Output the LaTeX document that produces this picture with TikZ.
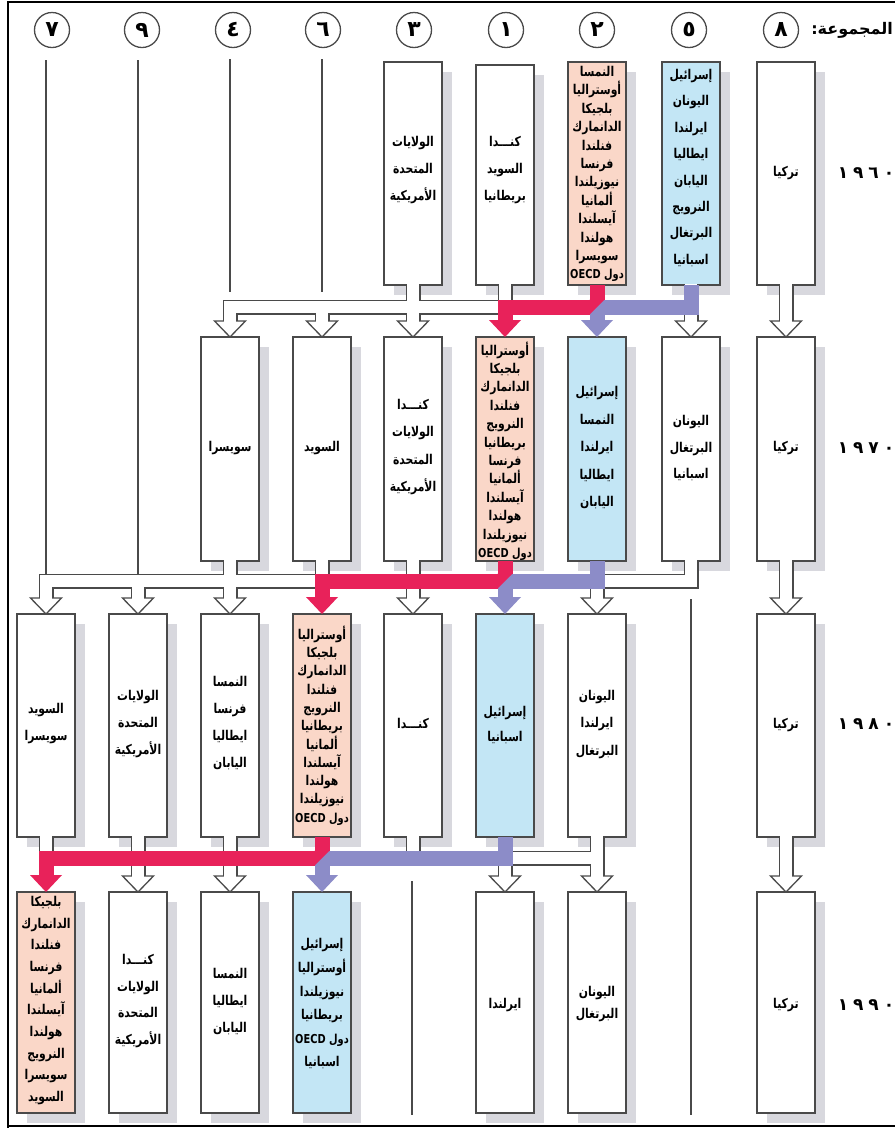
\documentclass[tikz,border=0pt]{standalone}
\usepackage{fontspec}
\usetikzlibrary{calc,shadows}
\TeXXeTstate=1
\newfontfamily\arfont[Script=Arabic,FakeStretch=0.8]{DejaVu Sans}
\newfontfamily\ardigits[Script=Arabic]{DejaVu Sans}
\newcommand{\rtl}[1]{\beginR #1\endR}
\newcommand{\oecd}{{\fontsize{12.3}{0}\selectfont\beginR دول \beginL OECD\endL\endR}}
\definecolor{pinkfill}{HTML}{FAD7C8}
\definecolor{bluefill}{HTML}{C3E6F5}
\definecolor{pinkband}{HTML}{E8225A}
\definecolor{blueband}{HTML}{8C8CC8}
\definecolor{shadowc}{HTML}{D8D8DE}
\definecolor{edge}{HTML}{4A4A4A}
\begin{document}
\begin{tikzpicture}[x=1pt,y=-1pt,
  box/.style={draw=edge,line width=1.3pt,minimum width=58pt,inner sep=0pt,outer sep=0pt,
     general shadow={fill=shadowc,shadow xshift=10pt,shadow yshift=-10pt}},
  wbox/.style={box,fill=white},
  pbox/.style={box,fill=pinkfill},
  bbox/.style={box,fill=bluefill},
  ra/.style={minimum height=223pt},
  rb/.style={minimum height=224pt},
  rc/.style={minimum height=223pt},
  rd/.style={minimum height=221pt},
  tx/.style={font=\arfont\bfseries\fontsize{13.5}{#1}\selectfont,align=center,inner sep=0pt},
  pipeout/.style={draw=edge,line width=15pt},
  pipein/.style={draw=white,line width=12.4pt,shorten <=-1.5pt,shorten >=-1pt},
  whd/.style={fill=white,draw=edge,line width=1.3pt},
  pband/.style={draw=pinkband,line width=15pt},
  bband/.style={draw=blueband,line width=15pt},
  vline/.style={draw=edge,line width=1.3pt},
  grp/.style={circle,draw=edge,line width=1.3pt,minimum size=35pt,inner sep=0pt,font=\ardigits\bfseries\fontsize{22}{22}\selectfont},
  yr/.style={font=\ardigits\bfseries\fontsize{17}{17}\selectfont,inner sep=0pt},
]
\useasboundingbox (0,0) rectangle (895,1128);
\fill[white] (0,0) rectangle (895,1128);
% frame
\draw[line width=2pt] (8,1128) -- (8,2) -- (895,2);
\draw[line width=2pt] (8,1125.5) -- (895,1125.5);
% header
\node[grp] (g7) at (52,30) {٧};
\node[grp] (g9) at (142,30) {٩};
\node[grp] (g4) at (233,30) {٤};
\node[grp] (g6) at (323,30) {٦};
\node[grp] (g3) at (414,30) {٣};
\node[grp] (g1) at (506,30) {١};
\node[grp] (g2) at (597,30) {٢};
\node[grp] (g5) at (689,30) {٥};
\node[grp] (g8) at (781,30) {٨};
\node[anchor=east,inner sep=0pt,font=\ardigits\bfseries\fontsize{16}{16}\selectfont] (hdr) at (893,30) {\rtl{المجموعة:}};
% years
\node[yr] (y60) at (866,173) {١\hspace{5pt}٩\hspace{5pt}٦\hspace{5pt}٠};
\node[yr] (y70) at (866,448) {١\hspace{5pt}٩\hspace{5pt}٧\hspace{5pt}٠};
\node[yr] (y80) at (866,724) {١\hspace{5pt}٩\hspace{5pt}٨\hspace{5pt}٠};
\node[yr] (y90) at (866,1005) {١\hspace{5pt}٩\hspace{5pt}٩\hspace{5pt}٠};
% boxes row 1960
\node[wbox,ra] (r1c3) at (413,173.5) {};
\node[wbox,minimum height=220pt] (r1c1) at (505,175) {};
\node[pbox,ra] (r1c2) at (597,173.5) {};
\node[bbox,ra] (r1c5) at (691,173.5) {};
\node[wbox,ra] (r1c8) at (786,173.5) {};
% row 1970
\node[wbox,rb] (r2c4) at (230,449) {};
\node[wbox,rb] (r2c6) at (322,449) {};
\node[wbox,rb] (r2c3) at (413,449) {};
\node[pbox,rb] (r2c1) at (505,449) {};
\node[bbox,rb] (r2c2) at (597,449) {};
\node[wbox,rb] (r2c5) at (691,449) {};
\node[wbox,rb] (r2c8) at (786,449) {};
% row 1980
\node[wbox,rc] (r3c7) at (46,725.5) {};
\node[wbox,rc] (r3c9) at (138,725.5) {};
\node[wbox,rc] (r3c4) at (230,725.5) {};
\node[pbox,rc] (r3c6) at (322,725.5) {};
\node[wbox,rc] (r3c3) at (413,725.5) {};
\node[bbox,rc] (r3c1) at (505,725.5) {};
\node[wbox,rc] (r3c2) at (597,725.5) {};
\node[wbox,rc] (r3c8) at (786,725.5) {};
% row 1990
\node[pbox,rd] (r4c7) at (46,1002.5) {};
\node[wbox,rd] (r4c9) at (138,1002.5) {};
\node[wbox,rd] (r4c4) at (230,1002.5) {};
\node[bbox,rd] (r4c6) at (322,1002.5) {};
\node[wbox,rd] (r4c1) at (505,1002.5) {};
\node[wbox,rd] (r4c2) at (597,1002.5) {};
\node[wbox,rd] (r4c8) at (786,1002.5) {};
% levels
\coordinate (L1) at (0,307);
\coordinate (L2) at (0,581);
\coordinate (L3) at (0,858);
% white pipes
\newcommand{\whitepipes}{%
  \draw[pp] (r1c1.south) -- (r1c1.south |- L1) -- (r2c4.north |- L1) -- ($(r2c4.north)+(0,-16)$);
  \draw[pp] (r1c3.south) -- ($(r2c3.north)+(0,-16)$);
  \draw[pp] (r2c6.north |- L1) -- ($(r2c6.north)+(0,-16)$);
  \draw[pp] (r1c5.south) -- ($(r2c5.north)+(0,-16)$);
  \draw[pp] (r1c8.south) -- ($(r2c8.north)+(0,-16)$);
  \draw[pp] (r2c3.south) -- (r2c3.south |- L2) -- (r3c7.north |- L2) -- ($(r3c7.north)+(0,-16)$);
  \draw[pp] (r2c3.south) -- ($(r3c3.north)+(0,-16)$);
  \draw[pp] (r2c4.south) -- ($(r3c4.north)+(0,-16)$);
  \draw[pp] (r3c9.north |- L2) -- ($(r3c9.north)+(0,-16)$);
  \draw[pp] (r2c6.south) -- (r2c6.south |- L2);
  \draw[pp] (r2c5.south) -- (r2c5.south |- L2) -- (r3c2.north |- L2) -- ($(r3c2.north)+(0,-16)$);
  \draw[pp] (r2c8.south) -- ($(r3c8.north)+(0,-16)$);
  \draw[pp] (r3c3.south) -- (r3c3.south |- L3) -- (r4c9.north |- L3) -- ($(r4c9.north)+(0,-16)$);
  \draw[pp] (r3c9.south) -- ($(r4c9.north)+(0,-16)$);
  \draw[pp] (r3c4.south) -- ($(r4c4.north)+(0,-16)$);
  \draw[pp] (r3c7.south) -- (r3c7.south |- L3);
  \draw[pp] (r3c2.south) -- (r3c2.south |- L3) -- (r4c1.north |- L3) -- ($(r4c1.north)+(0,-16)$);
  \draw[pp] (r3c2.south) -- ($(r4c2.north)+(0,-16)$);
  \draw[pp] (r3c8.south) -- ($(r4c8.north)+(0,-16)$);
}
\newcommand{\whead}[1]{\draw[whd] (#1.north) -- ++(-15.5,-16) -- ++(31,0) -- cycle;}
\tikzset{pp/.style={pipeout}}
\whitepipes
\whead{r2c4}\whead{r2c6}\whead{r2c3}\whead{r2c5}\whead{r2c8}
\whead{r3c7}\whead{r3c9}\whead{r3c4}\whead{r3c3}\whead{r3c2}\whead{r3c8}
\whead{r4c9}\whead{r4c4}\whead{r4c1}\whead{r4c2}\whead{r4c8}
\tikzset{pp/.style={pipein}}
\whitepipes
% coloured bands
\newcommand{\phead}[1]{\fill[pinkband] (#1.north) -- ++(-16,-17) -- ++(32,0) -- cycle;}
\newcommand{\bhead}[1]{\fill[blueband] (#1.north) -- ++(-16,-17) -- ++(32,0) -- cycle;}
% T1
\draw[pband] (r1c2.south) -- (r1c2.south |- L1) -- (r2c1.north |- L1) -- ($(r2c1.north)+(0,-16.5)$);
\phead{r2c1}
\draw[bband] (r1c5.south) -- (r1c5.south |- L1) -- (r2c2.north |- L1) -- ($(r2c2.north)+(0,-16.5)$);
\bhead{r2c2}
\coordinate (x1) at (r1c2.south |- L1);
\fill[pinkband] ($(x1)+(-7.5,-7.5)$) -- ++(15,0) -- ++(-15,15) -- cycle;
% T2
\draw[pband] (r2c1.south) -- (r2c1.south |- L2) -- (r3c6.north |- L2) -- ($(r3c6.north)+(0,-16.5)$);
\phead{r3c6}
\draw[bband] (r2c2.south) -- (r2c2.south |- L2) -- (r3c1.north |- L2) -- ($(r3c1.north)+(0,-16.5)$);
\bhead{r3c1}
\coordinate (x2) at (r2c1.south |- L2);
\fill[pinkband] ($(x2)+(-7.5,-7.5)$) -- ++(15,0) -- ++(-15,15) -- cycle;
% T3
\draw[pband] (r3c6.south) -- (r3c6.south |- L3) -- (r4c7.north |- L3) -- ($(r4c7.north)+(0,-16.5)$);
\phead{r4c7}
\draw[bband] (r3c1.south) -- (r3c1.south |- L3) -- (r4c6.north |- L3) -- ($(r4c6.north)+(0,-16.5)$);
\bhead{r4c6}
\coordinate (x3) at (r3c6.south |- L3);
\fill[pinkband] ($(x3)+(-7.5,-7.5)$) -- ++(15,0) -- ++(-15,15) -- cycle;
% vertical lines
\coordinate (v7a) at (46,60);  \coordinate (v7b) at (46,573.5);
\coordinate (v9a) at (138,60); \coordinate (v9b) at (138,573.5);
\coordinate (v4a) at (230,59); \coordinate (v4b) at (230,292);
\coordinate (v6a) at (322,59); \coordinate (v6b) at (322,292);
\coordinate (v5a) at (691,599); \coordinate (v5b) at (691,1115);
\coordinate (v3a) at (412,881); \coordinate (v3b) at (412,1115);
\draw[vline] (v7a) -- (v7b);
\draw[vline] (v9a) -- (v9b);
\draw[vline] (v4a) -- (v4b);
\draw[vline] (v6a) -- (v6b);
\draw[vline] (v5a) -- (v5b);
\draw[vline] (v3a) -- (v3b);
% texts 1960
\node[tx=27] (t13) at (413,170) {\rtl{الولايات}\\\rtl{المتحدة}\\\rtl{الأمريكية}};
\node[tx=27] (t11) at (505,170) {\rtl{كنـــدا}\\\rtl{السويد}\\\rtl{بريطانيا}};
\node[tx=18.4] (t12) at (597,174) {\rtl{النمسا}\\\rtl{أوستراليا}\\\rtl{بلجيكا}\\\rtl{الدانمارك}\\\rtl{فنلندا}\\\rtl{فرنسا}\\\rtl{نيوزيلندا}\\\rtl{ألمانيا}\\\rtl{آيسلندا}\\\rtl{هولندا}\\\rtl{سويسرا}\\\oecd};
\node[tx=26.4] (t15) at (691,168) {\rtl{إسرائيل}\\\rtl{اليونان}\\\rtl{ايرلندا}\\\rtl{ايطاليا}\\\rtl{اليابان}\\\rtl{النرويج}\\\rtl{البرتغال}\\\rtl{اسبانيا}};
\node[tx=27] (t18) at (786,173) {\rtl{تركيا}};
% texts 1970
\node[tx=27] (t24) at (230,448) {\rtl{سويسرا}};
\node[tx=27] (t26) at (322,448) {\rtl{السويد}};
\node[tx=27.5] (t23) at (413,447) {\rtl{كنـــدا}\\\rtl{الولايات}\\\rtl{المتحدة}\\\rtl{الأمريكية}};
\node[tx=18.4] (t21) at (505,451) {\rtl{أوستراليا}\\\rtl{بلجيكا}\\\rtl{الدانمارك}\\\rtl{فنلندا}\\\rtl{النرويج}\\\rtl{بريطانيا}\\\rtl{فرنسا}\\\rtl{ألمانيا}\\\rtl{آيسلندا}\\\rtl{هولندا}\\\rtl{نيوزيلندا}\\\oecd};
\node[tx=27.5] (t22) at (597,448) {\rtl{إسرائيل}\\\rtl{النمسا}\\\rtl{ايرلندا}\\\rtl{ايطاليا}\\\rtl{اليابان}};
\node[tx=26.5] (t25) at (691,448.5) {\rtl{اليونان}\\\rtl{البرتغال}\\\rtl{اسبانيا}};
\node[tx=27] (t28) at (786,448) {\rtl{تركيا}};
% texts 1980
\node[tx=27] (t37) at (46,723.5) {\rtl{السويد}\\\rtl{سويسرا}};
\node[tx=27] (t39) at (138,724) {\rtl{الولايات}\\\rtl{المتحدة}\\\rtl{الأمريكية}};
\node[tx=27.3] (t34) at (230,723) {\rtl{النمسا}\\\rtl{فرنسا}\\\rtl{ايطاليا}\\\rtl{اليابان}};
\node[tx=18.3] (t36) at (322,725.5) {\rtl{أوستراليا}\\\rtl{بلجيكا}\\\rtl{الدانمارك}\\\rtl{فنلندا}\\\rtl{النرويج}\\\rtl{بريطانيا}\\\rtl{ألمانيا}\\\rtl{آيسلندا}\\\rtl{هولندا}\\\rtl{نيوزيلندا}\\\oecd};
\node[tx=27] (t33) at (413,724) {\rtl{كنـــدا}};
\node[tx=25] (t31) at (505,725.5) {\rtl{إسرائيل}\\\rtl{اسبانيا}};
\node[tx=27.5] (t32) at (597,724.5) {\rtl{اليونان}\\\rtl{ايرلندا}\\\rtl{البرتغال}};
\node[tx=27] (t38) at (786,725) {\rtl{تركيا}};
% texts 1990
\node[tx=21.7] (t47) at (46,1000.5) {\rtl{بلجيكا}\\\rtl{الدانمارك}\\\rtl{فنلندا}\\\rtl{فرنسا}\\\rtl{ألمانيا}\\\rtl{آيسلندا}\\\rtl{هولندا}\\\rtl{النرويج}\\\rtl{سويسرا}\\\rtl{السويد}};
\node[tx=26.5] (t49) at (138,1001) {\rtl{كنـــدا}\\\rtl{الولايات}\\\rtl{المتحدة}\\\rtl{الأمريكية}};
\node[tx=27] (t44) at (230,1002) {\rtl{النمسا}\\\rtl{ايطاليا}\\\rtl{اليابان}};
\node[tx=23.6] (t46) at (322,1004) {\rtl{إسرائيل}\\\rtl{أوستراليا}\\\rtl{نيوزيلندا}\\\rtl{بريطانيا}\\\oecd\\\rtl{اسبانيا}};
\node[tx=27] (t41) at (505,1005) {\rtl{ايرلندا}};
\node[tx=22] (t42) at (597,1004) {\rtl{اليونان}\\\rtl{البرتغال}};
\node[tx=27] (t48) at (786,1005) {\rtl{تركيا}};
\end{tikzpicture}
\end{document}
